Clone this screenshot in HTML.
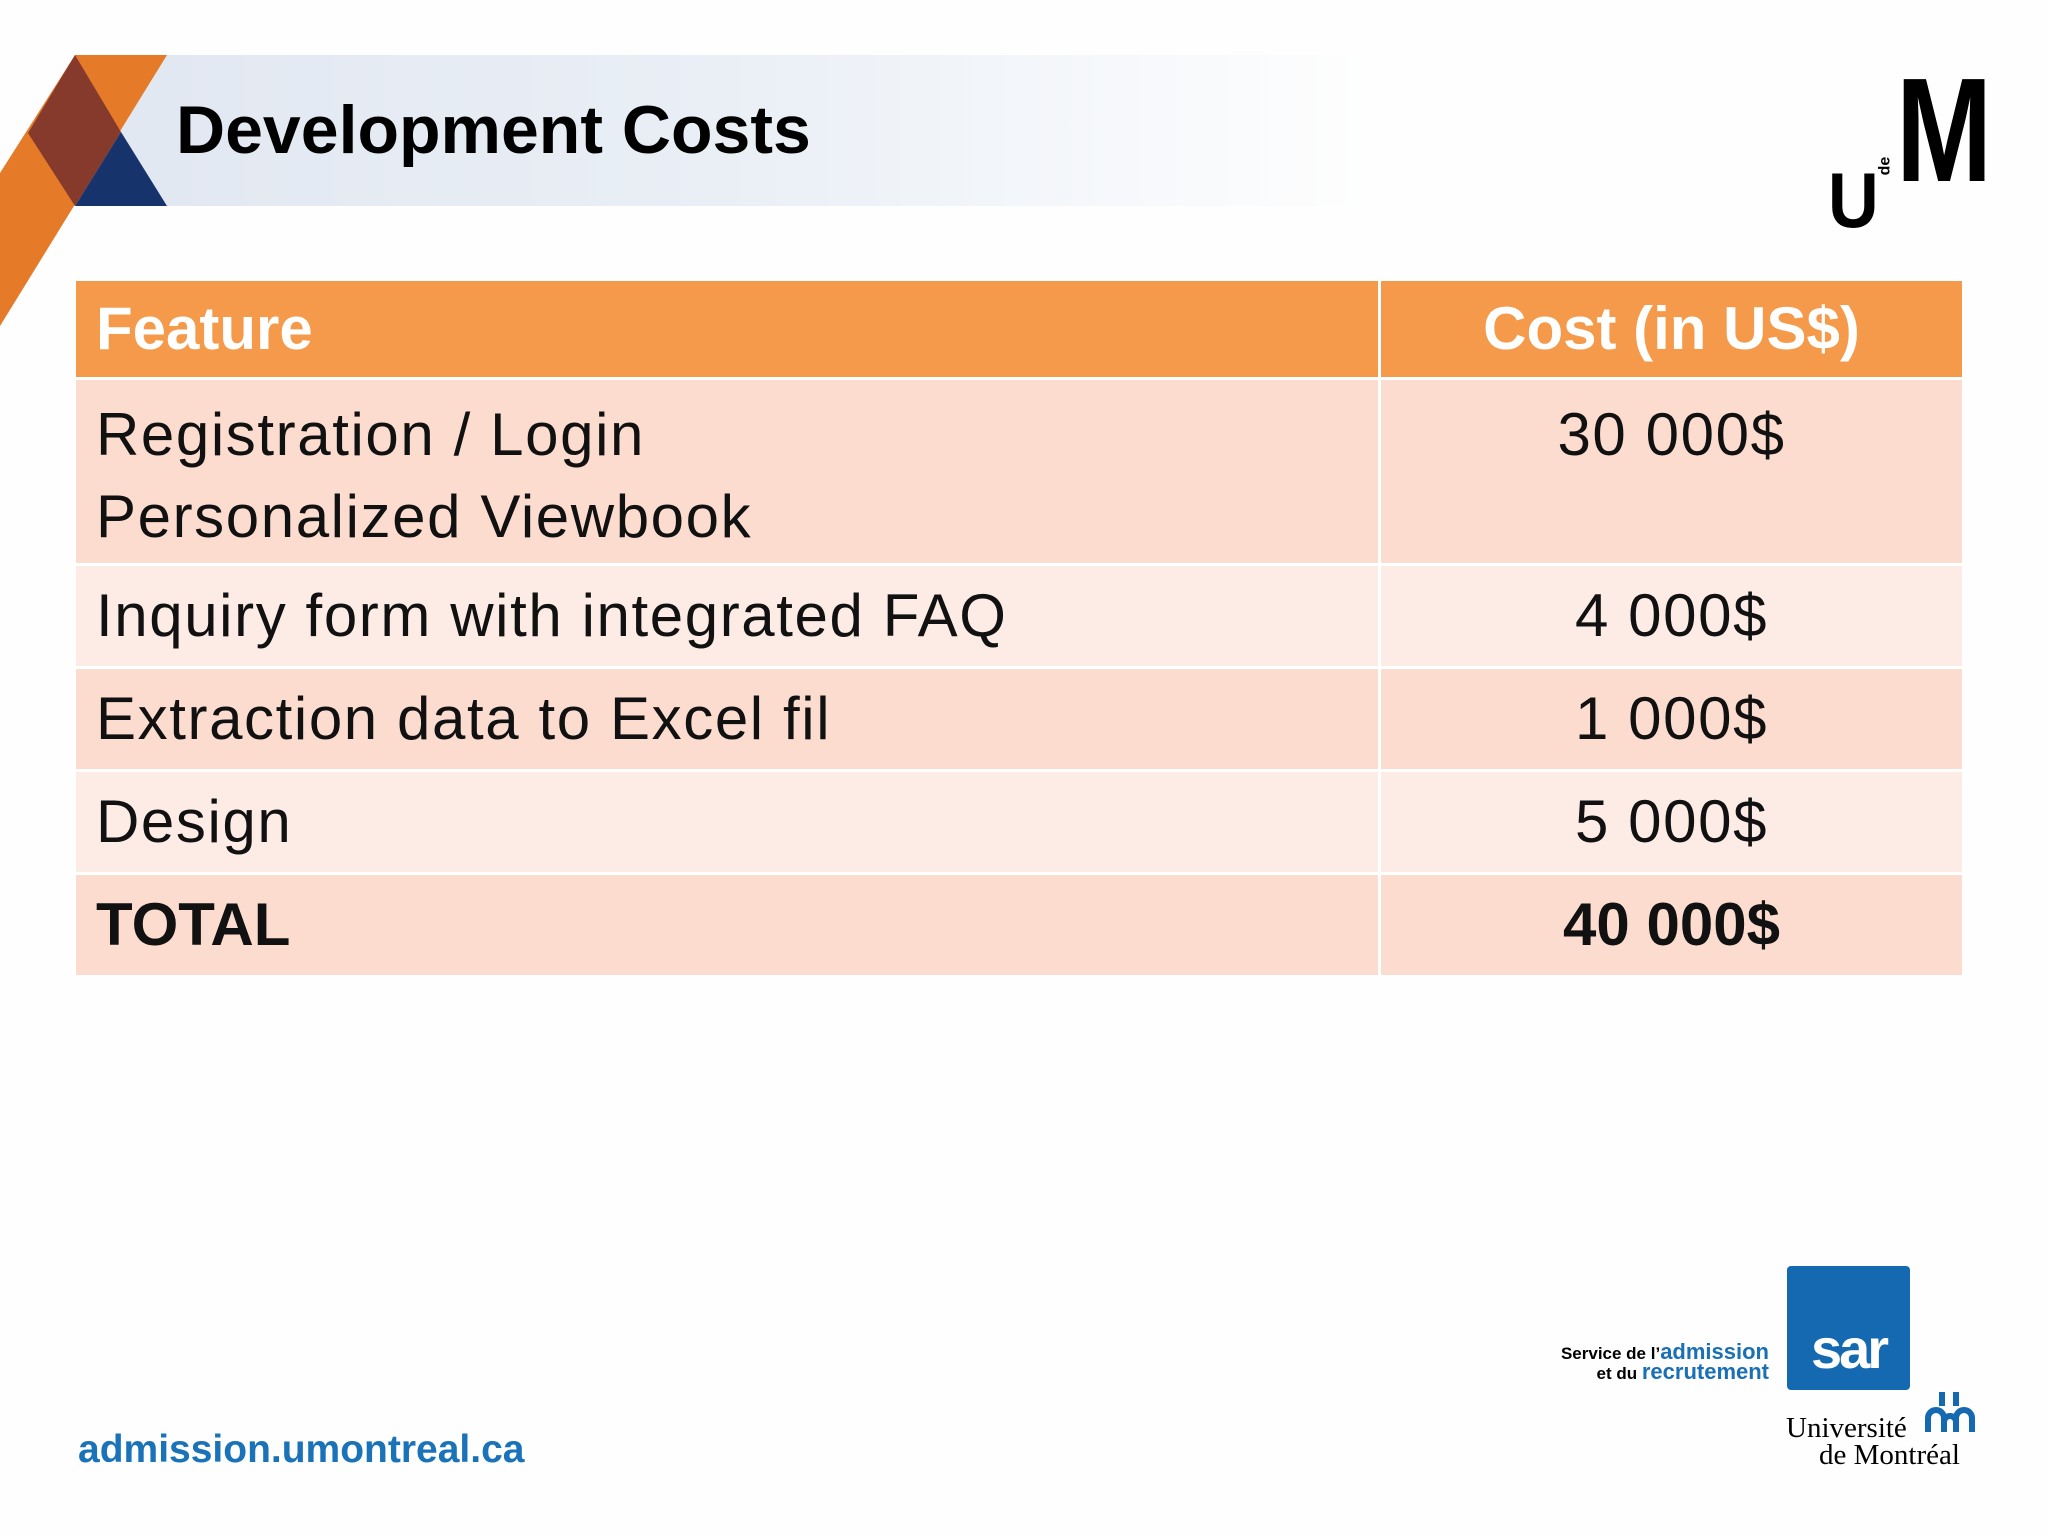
<!DOCTYPE html>
<html><head><meta charset="utf-8"><style>
body{margin:0;width:2048px;height:1536px;background:#fefefe;position:relative;overflow:hidden;font-family:"Liberation Sans",sans-serif}
.abs{position:absolute}
table{border-collapse:collapse;position:absolute;left:73px;top:278px;width:1892px;table-layout:fixed}
td{border:3px solid #fff;padding:0 0 0 20px;font-size:60px;letter-spacing:1.6px;color:#111;vertical-align:top;line-height:82px}
td.c{text-align:center;padding:0}
tr.h td{background:#f49a4a;color:#fff;font-weight:bold;height:96px;vertical-align:middle;letter-spacing:0}
tr.a td{background:#fcdccf}
tr.b td{background:#fdece6}
</style></head><body>
<div class="abs" style="left:75px;top:55px;width:1300px;height:151px;background:linear-gradient(90deg,#e1e7f1 0%,#eaeff6 50%,rgba(255,255,255,0) 100%)"></div>
<svg class="abs" style="left:0;top:0" width="200" height="340">
<polygon points="75,55 167,55 0,326 0,173" fill="#e57a28"/>
<polygon points="75,55 121,132 75,206 28,133" fill="#853a2b"/>
<polygon points="75,206 167,206 121,132" fill="#17336b"/>
</svg>
<div class="abs" style="left:176px;top:90px;font-size:68px;font-weight:bold;color:#000;line-height:80px">Development Costs</div>
<div class="abs" style="left:1826px;top:60px;width:200px;height:170px">
<div class="abs" style="left:2px;top:100px;font-size:78px;font-weight:bold;line-height:80px;transform:scaleX(0.9);transform-origin:left">U</div>
<div class="abs" style="left:50px;top:97px;font-size:16px;font-weight:bold;transform:rotate(-90deg)">de</div>
<div class="abs" style="left:70px;top:-4px;font-size:148px;font-weight:bold;line-height:150px;transform:scaleX(0.78);transform-origin:left">M</div>
</div>
<table>
<colgroup><col style="width:1305px"><col></colgroup>
<tr class="h"><td>Feature</td><td class="c">Cost (in US$)</td></tr>
<tr class="a" style="height:186px"><td style="padding-top:14px">Registration / Login<br>Personalized Viewbook</td><td class="c" style="padding-top:14px">30 000$</td></tr>
<tr class="b" style="height:103px"><td style="vertical-align:middle">Inquiry form with integrated FAQ</td><td class="c" style="vertical-align:middle">4 000$</td></tr>
<tr class="a" style="height:103px"><td style="vertical-align:middle">Extraction data to Excel fil</td><td class="c" style="vertical-align:middle">1 000$</td></tr>
<tr class="b" style="height:103px"><td style="vertical-align:middle">Design</td><td class="c" style="vertical-align:middle">5 000$</td></tr>
<tr class="a" style="height:103px"><td style="vertical-align:middle;font-weight:bold;letter-spacing:0">TOTAL</td><td class="c" style="vertical-align:middle;font-weight:bold;letter-spacing:0">40 000$</td></tr>
</table>
<div class="abs" style="left:78px;top:1428px;font-size:39px;font-weight:bold;color:#1a73b8">admission.umontreal.ca</div>
<div class="abs" style="left:1469px;top:1343px;font-size:17px;line-height:18px;text-align:right;width:300px;font-weight:bold;white-space:nowrap">Service de l’<span style="color:#1a6fb5;font-size:22px">admission</span><br>et du <span style="color:#1a6fb5;font-size:22px">recrutement</span></div>
<div class="abs" style="left:1787px;top:1266px;width:123px;height:124px;background:#1569b1;border-radius:4px;color:#fff;font-weight:bold;font-size:56px;text-align:center;line-height:165px;letter-spacing:-3px">sar</div>
<div class="abs" style="left:1786px;top:1415px;font-family:'Liberation Serif',serif;font-size:29px;line-height:27px;white-space:nowrap">Université<br><span style="margin-left:33px">de Montréal</span></div>
<svg class="abs" style="left:1925px;top:1392px" width="50" height="40">
<g fill="none" stroke="#1569b1" stroke-width="6">
<path d="M17 0 V14 M31 0 V14"/>
<path d="M3 40 V26 a8 8 0 0 1 16 0 V40 M31 40 V26 a8 8 0 0 1 16 0 V40 M19 30 a6 6 0 0 1 12 0"/>
</g></svg>
</body></html>
